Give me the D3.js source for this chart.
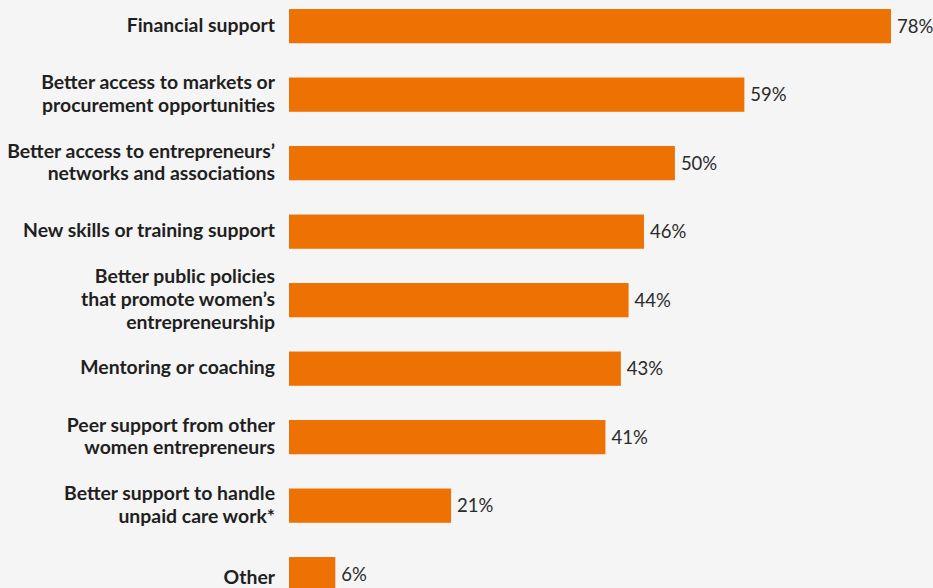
<!DOCTYPE html>
<html><head><meta charset="utf-8">
<script src="https://cdn.jsdelivr.net/npm/d3@7"></script>
<style>
html,body{margin:0;padding:0;background:#f5f5f5;}
svg{display:block;}
</style></head>
<body>
<svg id="chart" width="933" height="588"></svg>
<script>
const categories = [
  ["Financial support"],
  ["Better access to markets or","procurement opportunities"],
  ["Better access to entrepreneurs\u2019","networks and associations"],
  ["New skills or training support"],
  ["Better public policies","that promote women\u2019s","entrepreneurship"],
  ["Mentoring or coaching"],
  ["Peer support from other","women entrepreneurs"],
  ["Better support to handle","unpaid care work*"],
  ["Other"]
];
const values = [78, 59, 50, 46, 44, 43, 41, 21, 6];
const valueLabels = ["78%","59%","50%","46%","44%","43%","41%","21%","6%"];

const svg = d3.select("#chart");
const W = 933, H = 588;
svg.append("rect").attr("width", W).attr("height", H).attr("fill", "#f5f5f5");

const x0 = 289;
const x = d3.scaleLinear().domain([0, 78]).range([x0, 891]);
const y = d3.scaleBand().domain(d3.range(categories.length))
  .range([-8.1, 608.4]).paddingInner(0.5).paddingOuter(0.25);

const g = svg.append("g");
g.selectAll("rect.bar").data(values).join("rect")
  .attr("class","bar")
  .attr("x", x(0))
  .attr("y", (d,i) => y(i))
  .attr("width", d => x(d) - x(0))
  .attr("height", y.bandwidth())
  .attr("fill", "#ee7203");

g.selectAll("text.val").data(values).join("text")
  .attr("class","val")
  .attr("x", d => x(d) + 6)
  .attr("y", (d,i) => y(i) + y.bandwidth()/2)
  .attr("dy", "0.35em")
  .attr("font-family", "Lato, sans-serif")
  .attr("font-size", 18.5)
  .attr("fill", "#2a2a2a")
  .text((d,i) => valueLabels[i]);

const lh = 22.8;
categories.forEach((lines, i) => {
  const cy = y(i) + y.bandwidth()/2;
  const t = g.append("text")
    .attr("text-anchor","end")
    .attr("font-family","Lato, sans-serif")
    .attr("font-weight","bold")
    .attr("font-size",19.4)
    .attr("fill","#1f1f1f");
  lines.forEach((ln, k) => {
    t.append("tspan")
      .attr("x", 275)
      .attr("y", cy + (k - (lines.length-1)/2) * lh + (i === categories.length-1 ? 4 : 0) - 1)
      .attr("dy","0.35em")
      .text(ln);
  });
});
</script>
</body></html>
